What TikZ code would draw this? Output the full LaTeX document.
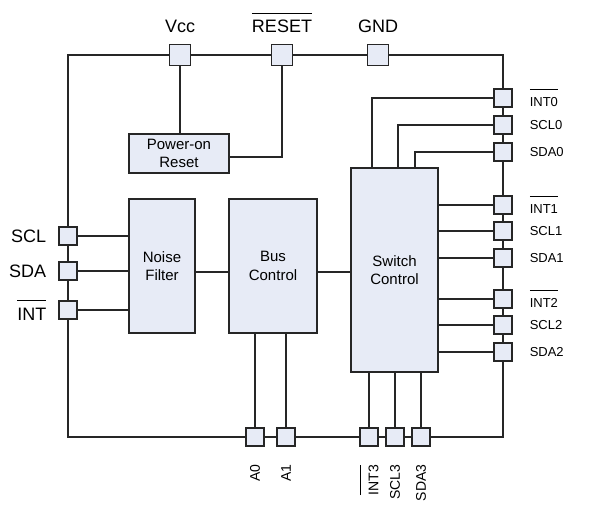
\documentclass[tikz,border=0pt]{standalone}
\usepackage{fontspec}
\setmainfont{Liberation Sans}
\usetikzlibrary{positioning}
\definecolor{blkfill}{RGB}{231,235,246}
\definecolor{wire}{RGB}{38,38,38}
\newcommand{\barsig}[2][6pt]{\vbox{\hrule height 0.9pt\kern #1\hbox{#2}}}

\begin{document}
\begin{tikzpicture}[x=1pt,y=-1pt,line width=2pt,color=wire,
    pad/.style={draw,fill=blkfill,minimum size=18pt,inner sep=0pt,line width=1.5pt},
    toppad/.style={pad,minimum size=21pt},
    blk/.style={draw,fill=blkfill,inner sep=0pt,align=center,line width=1.8pt,text=black,font=\fontsize{15}{18.3}\selectfont},
    biglbl/.style={inner sep=0pt,text=black,font=\fontsize{18}{21}\selectfont},
    smalllbl/.style={inner sep=0pt,text=black,font=\fontsize{13}{15}\selectfont},
    botlbl/.style={inner sep=0pt,text=black,font=\fontsize{14}{16}\selectfont,rotate=90,anchor=east}]

\useasboundingbox (0,0) rectangle (591,508);
\draw (68,55) rectangle (503,437);

% blocks
\node[blk,minimum width=100pt,minimum height=39pt]  (por) at (179,153.5) {Power-on\\Reset};
\node[blk,minimum width=66pt,minimum height=134pt]  (nf)  at (162,266)   {Noise\\Filter};
\node[blk,minimum width=88pt,minimum height=134pt]  (bc)  at (273,266)   {Bus\\Control};
\node[blk,minimum width=87pt,minimum height=204pt]  (sw)  at (394.5,270) {Switch\\Control};

% top pads
\node[toppad] (vcc) at (180,55) {};
\node[toppad] (rst) at (282,55) {};
\node[toppad] (gnd) at (378,55) {};
\node[biglbl,anchor=base] (vcc-l) at ([yshift=11pt]vcc.north) {Vcc};
\node[biglbl,anchor=base] (rst-l) at ([yshift=11pt]rst.north) {\barsig{RESET}};
\node[biglbl,anchor=base] (gnd-l) at ([yshift=11pt]gnd.north) {GND};

% left pads
\node[pad] (scl) at (68,236) {};
\node[pad] (sda) at (68,271) {};
\node[pad] (int) at (68,310) {};
\node[biglbl,left=11pt of scl] (scl-l) {SCL};
\node[biglbl,left=11pt of sda] (sda-l) {SDA};
\node[biglbl,left=11pt of int] (int-l) {\barsig[7pt]{INT}};

% right pads
\foreach \n/\y/\t in {int0/98/{\barsig[8pt]{INT0}},scl0/125/SCL0,sda0/152/SDA0,
    int1/205/{\barsig[8pt]{INT1}},scl1/231/SCL1,sda1/258/SDA1,
    int2/299/{\barsig[8pt]{INT2}},scl2/325/SCL2,sda2/352/SDA2}{
  \node[pad] (\n) at (503,\y) {};
  \node[smalllbl,right=16pt of \n] (\n-l) {\t};
}

% bottom pads
\foreach \n/\x/\t in {a0/255/A0,a1/286/A1,int3/369/{\barsig[8pt]{INT3}},scl3/395/SCL3,sda3/421/SDA3}{
  \node[pad] (\n) at (\x,437) {};
  \node[botlbl] (\n-l) at ([yshift=-17pt]\n.south) {\t};
}

% connections
\draw (vcc.south) -- (vcc.south |- por.north);
\draw (rst.south) |- ([yshift=-3pt]por.east);
\foreach \n in {scl,sda,int}
  \draw (\n.east) -- (\n.east -| nf.west);
\draw ([yshift=-6pt]nf.east) -- ([yshift=-6pt]nf.east -| bc.west);
\draw ([yshift=-6pt]bc.east) -- ([yshift=-6pt]bc.east -| sw.west);
\draw (int0.west) -| ([xshift=22pt]sw.north west);
\draw (scl0.west) -| ([xshift=48pt]sw.north west);
\draw (sda0.west) -| ([xshift=65pt]sw.north west);
\foreach \n in {int1,scl1,sda1,int2,scl2,sda2}
  \draw (\n.west) -- (\n.west -| sw.east);
\foreach \n in {a0,a1}
  \draw (\n.north) -- (\n.north |- bc.south);
\foreach \n in {int3,scl3,sda3}
  \draw (\n.north) -- (\n.north |- sw.south);
\end{tikzpicture}
\end{document}
